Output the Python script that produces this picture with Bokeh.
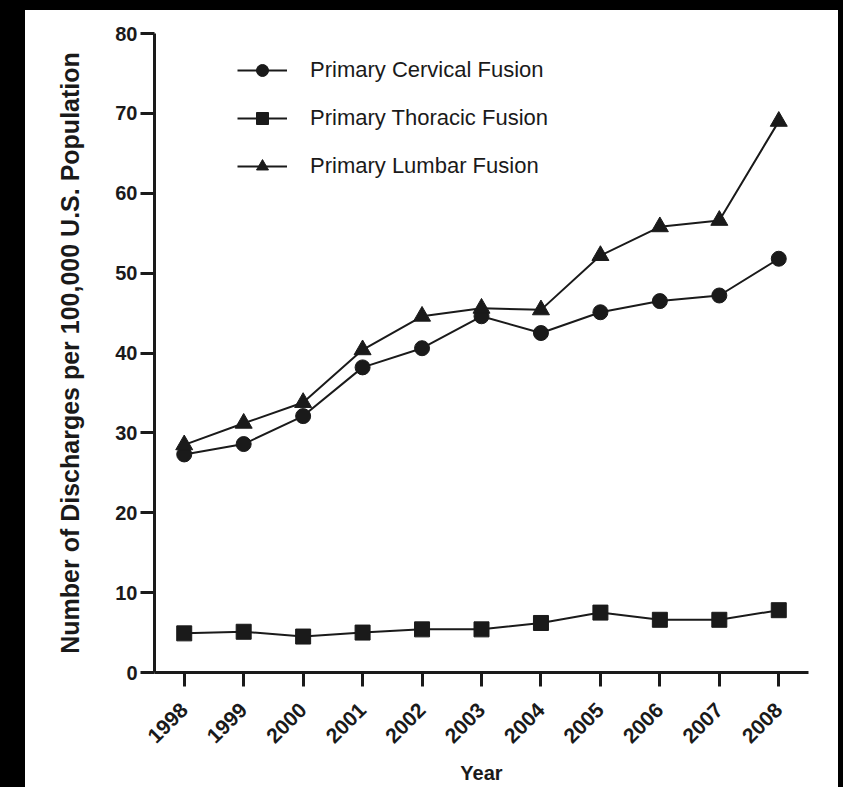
from bokeh.plotting import figure
from bokeh.models import Legend, LegendItem, FixedTicker, Div
from bokeh.layouts import row
from bokeh.embed import file_html
from bokeh.resources import INLINE

years = [1998, 1999, 2000, 2001, 2002, 2003, 2004, 2005, 2006, 2007, 2008]
cervical = [27.3, 28.6, 32.1, 38.2, 40.6, 44.6, 42.5, 45.1, 46.5, 47.2, 51.8]
thoracic = [4.9, 5.1, 4.5, 5.0, 5.4, 5.4, 6.2, 7.5, 6.6, 6.6, 7.8]
lumbar = [28.5, 31.2, 33.8, 40.4, 44.6, 45.6, 45.4, 52.2, 55.8, 56.6, 69.0]
y_ticks = [0, 10, 20, 30, 40, 50, 60, 70, 80]
series_names = ["Primary Cervical Fusion", "Primary Thoracic Fusion", "Primary Lumbar Fusion"]

FONT = "Liberation Sans"
INK = "#1a1a1a"

p = figure(width=841, height=787, x_range=(1997.5, 2008.5), y_range=(0, 80),
           output_backend="svg", toolbar_location=None,
           min_border_left=154, min_border_right=33, min_border_top=33, min_border_bottom=112)
p.background_fill_color = "white"
p.border_fill_color = "white"
p.outline_line_color = None
p.grid.visible = False

items = []
for vals, marker, size, name in [(cervical, "circle", 15, series_names[0]),
                                 (thoracic, "square", 15, series_names[1]),
                                 (lumbar, "triangle", 17, series_names[2])]:
    ln = p.line(years, vals, line_color=INK, line_width=2)
    sc = p.scatter(years, vals, marker=marker, size=size, fill_color=INK, line_color=INK)
    items.append(LegendItem(label=name, renderers=[ln, sc]))

legend = Legend(items=items, location=(83, 491), padding=0, margin=0,
                glyph_width=50, glyph_height=30, label_height=20, spacing=18,
                label_standoff=23, border_line_alpha=0, background_fill_alpha=0,
                label_text_font=FONT, label_text_font_size="22px", label_text_color=INK)
p.add_layout(legend)

for ax in (p.xaxis[0], p.yaxis[0]):
    ax.axis_line_width = 3
    ax.axis_line_color = INK
    ax.major_tick_line_width = 3
    ax.major_tick_line_color = INK
    ax.major_tick_out = 14
    ax.major_tick_in = 0
    ax.minor_tick_line_color = None
    ax.major_label_text_font = FONT
    ax.major_label_text_font_style = "bold"
    ax.major_label_text_font_size = "20px"
    ax.major_label_text_color = INK
    ax.axis_label_text_font = FONT
    ax.axis_label_text_font_style = "bold"
    ax.axis_label_text_color = INK

p.xaxis.ticker = FixedTicker(ticks=years)
p.xaxis.major_label_orientation = 0.785398
p.xaxis.major_label_text_font_size = "21px"
p.xaxis.major_label_standoff = 20
p.xaxis.axis_label = "Year"
p.xaxis.axis_label_text_font_size = "20px"
p.xaxis.axis_label_standoff = 10

p.yaxis.ticker = FixedTicker(ticks=y_ticks)
p.yaxis.major_label_standoff = 3
p.yaxis.axis_label = "Number of Discharges per 100,000 U.S. Population"
p.yaxis.axis_label_text_font_size = "25px"
p.yaxis.axis_label_standoff = 28

frame_html = ('<div style="position:fixed;left:0;top:0;width:25px;height:787px;background:#000"></div>'
              '<div style="position:fixed;left:0;top:0;width:843px;height:10px;background:#000"></div>'
              '<div style="position:fixed;left:838px;top:0;width:5px;height:787px;background:#000"></div>')
border = Div(text=frame_html, width=1, height=1, margin=0)

layout = row(p, border)
open("out.html", "w").write(file_html(layout, INLINE))
